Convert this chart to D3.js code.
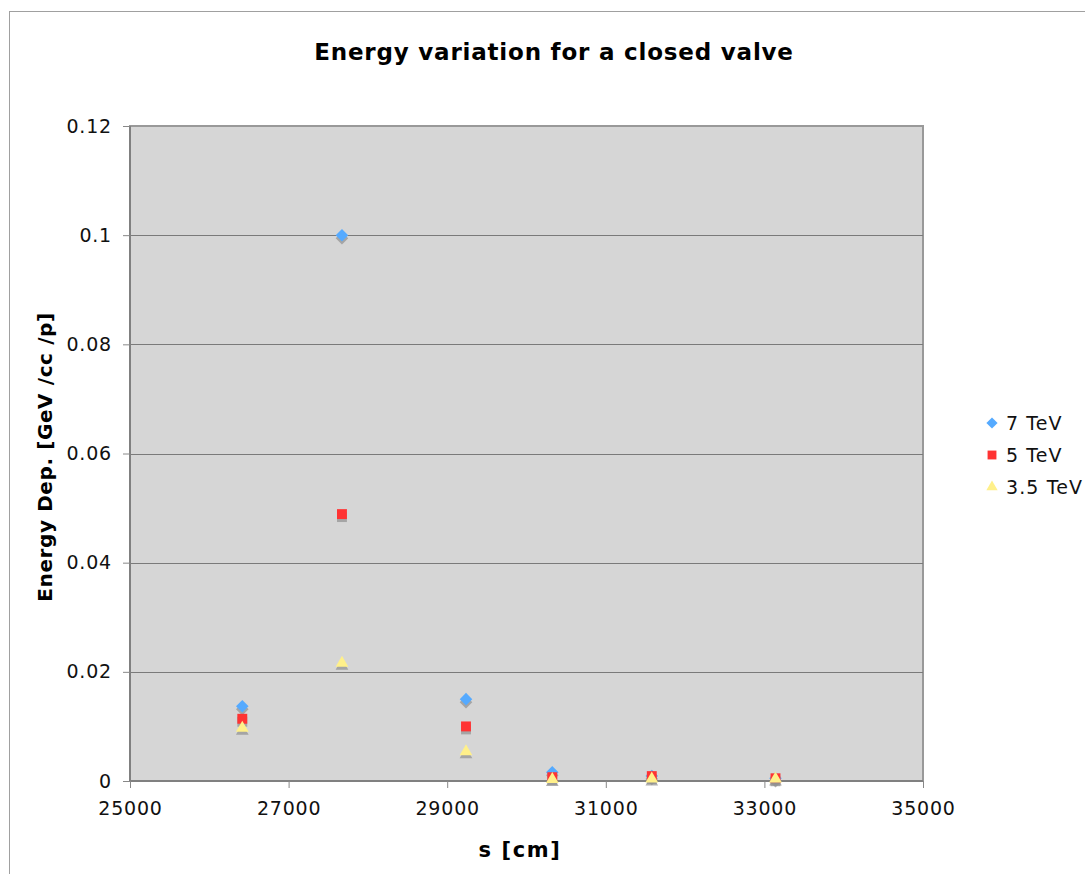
<!DOCTYPE html>
<html><head><meta charset="utf-8">
<script src="https://cdn.jsdelivr.net/npm/d3@7"></script>
<style>body{margin:0;background:#fff;}svg{display:block;font-family:"DejaVu Sans",Verdana,sans-serif;}</style>
</head><body>
<script>
const sPositions = [26416, 27673, 29237, 30325, 31580, 33140];
const tev7  = [0.0137, 0.1000, 0.0150, 0.0016, 0.0009, 0.0005];
const tev5  = [0.0114, 0.0489, 0.0100, 0.0007, 0.0009, 0.0005];
const tev35 = [0.0097, 0.0216, 0.0054, 0.0003, 0.0004, 0.0004];
const seriesNames = ["7 TeV", "5 TeV", "3.5 TeV"];
const xTicks = [25000, 27000, 29000, 31000, 33000, 35000];
const yTicks = [0, 0.02, 0.04, 0.06, 0.08, 0.1, 0.12];

const W = 1085, H = 874;
const svg = d3.select("body").append("svg").attr("width", W).attr("height", H);
const L = 130, R = 923, T = 126, B = 781;
const x = d3.scaleLinear().domain([25000, 35000]).range([L, R]);
const y = d3.scaleLinear().domain([0, 0.12]).range([B, T]);

// outer frame
svg.append("rect").attr("x", 9.5).attr("y", 11.5).attr("width", W).attr("height", H)
  .attr("fill", "none").attr("stroke", "#a0a0a0").attr("stroke-width", 1);

// plot background
svg.append("rect").attr("x", L).attr("y", T).attr("width", R - L).attr("height", B - T)
  .attr("fill", "#d6d6d6").attr("stroke", "#999").attr("stroke-width", 2);

// gridlines
svg.append("g").selectAll("line").data(yTicks.filter(d => d > 0 && d < 0.12)).join("line")
  .attr("x1", L).attr("x2", R).attr("y1", d => Math.round(y(d)) + 0.5).attr("y2", d => Math.round(y(d)) + 0.5)
  .attr("stroke", "#7a7a7a").attr("stroke-width", 1);

// axes
const yAxis = d3.axisLeft(y).tickValues(yTicks).tickSize(7).tickPadding(11)
  .tickFormat(d => d === 0 ? "0" : String(+d.toFixed(2)));
const gy = svg.append("g").attr("transform", `translate(${L},0)`).call(yAxis);
const xAxis = d3.axisBottom(x).tickValues(xTicks).tickSize(7).tickPadding(14).tickFormat(d3.format("d"));
const gx = svg.append("g").attr("transform", `translate(0,${B})`).call(xAxis);
[gx, gy].forEach(g => {
  g.select(".domain").attr("stroke", "#808080").attr("stroke-width", 2);
  g.selectAll(".tick line").attr("stroke", "#888");
  g.selectAll("text").attr("font-size", 19).attr("letter-spacing", 0.8).attr("fill", "#111")
    .attr("font-family", '"DejaVu Sans",Verdana,sans-serif');
});
gx.select(".domain").attr("d", `M${L},0H${R}`);
gy.select(".domain").attr("d", `M0,${T}V${B}`);

// titles
svg.append("text").attr("x", 554).attr("y", 60).attr("text-anchor", "middle")
  .attr("font-weight", "bold").attr("font-size", 23).attr("letter-spacing", 0.8)
  .text("Energy variation for a closed valve");
svg.append("text").attr("x", 520).attr("y", 857).attr("text-anchor", "middle")
  .attr("font-weight", "bold").attr("font-size", 21).attr("letter-spacing", 1.6).text("s [cm]");
svg.append("text").attr("transform", "translate(52,457) rotate(-90)").attr("text-anchor", "middle")
  .attr("font-weight", "bold").attr("font-size", 20).attr("letter-spacing", 0.6)
  .text("Energy Dep. [GeV /cc /p]");

// markers
const sym = [d3.symbolDiamond2, d3.symbolSquare2, d3.symbolTriangle2];
const sizes = [100, 125, 115];
const colors = ["#55aaff", "#ff3333", "#fff08a"];
const allSeries = [tev7, tev5, tev35];

function drawSeries(vals, i) {
  const g = svg.append("g");
  const pts = sPositions.map((s, j) => ({ s, v: vals[j] }));
  const pathGen = d3.symbol().type(sym[i]).size(sizes[i]);
  g.selectAll("path.sh").data(pts).join("path").attr("class", "sh")
    .attr("d", pathGen)
    .attr("transform", d => `translate(${x(d.s)},${y(d.v) + 3})`)
    .attr("fill", "#909090").attr("opacity", 0.7);
  g.selectAll("path.m").data(pts).join("path").attr("class", "m")
    .attr("d", pathGen)
    .attr("transform", d => `translate(${x(d.s)},${y(d.v)})`)
    .attr("fill", colors[i]);
}
allSeries.forEach((v, i) => drawSeries(v, i));

// legend
const lg = svg.append("g");
seriesNames.forEach((n, i) => {
  const yy = 423 + i * 32;
  lg.append("path").attr("d", d3.symbol().type(sym[i]).size(sizes[i] * 0.8)())
    .attr("transform", `translate(992,${yy})`).attr("fill", colors[i]);
  lg.append("text").attr("x", 1006).attr("y", yy + 7).attr("font-size", 19)
    .attr("letter-spacing", 1.1).attr("fill", "#111").text(n);
});
</script>
</body></html>
